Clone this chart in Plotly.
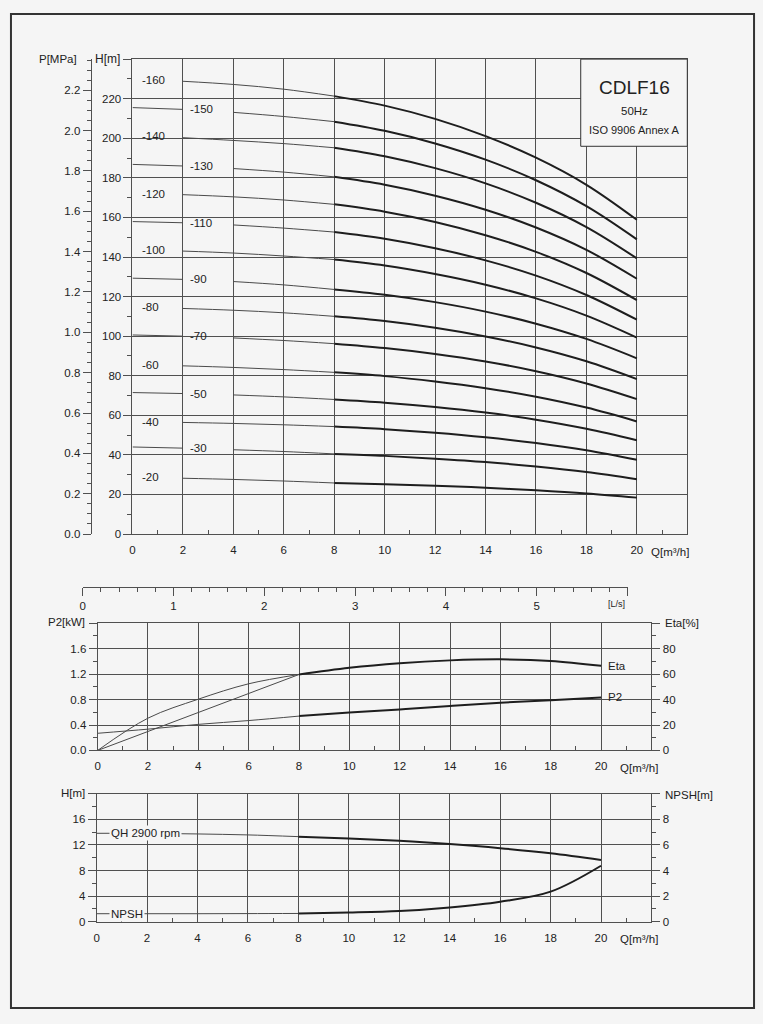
import plotly.graph_objects as go

W = 763
H_REF = 1024
H_FIG = 1032
BG = "#f5f5f5"
INK = "#1e1e1e"
GRID = "#505050"
THIN = "#4a4a4a"
FONT = "Liberation Sans, Arial, sans-serif"
FS = 11.5


def px(x):
    return x / W


def py(y):
    return 1 - y / H_REF


# ---------------- data ----------------
Q = [0, 2, 4, 6, 8, 10, 12, 14, 16, 18, 20]
Q_TICKS = [0, 2, 4, 6, 8, 10, 12, 14, 16, 18, 20]
LS_TICKS = [0, 1, 2, 3, 4, 5, 6]
LS_TEXT = ["0", "1", "2", "3", "4", "5", ""]

STAGE_LABELS = ["-160", "-150", "-140", "-130", "-120", "-110", "-100", "-90",
                "-80", "-70", "-60", "-50", "-40", "-30", "-20"]

HEAD_160 = [229.6, 228.8, 227.2, 224.8, 221.3, 216.5, 209.8, 201.1, 190.2, 176.5, 158.8]
HEAD_150 = [215.5, 214.6, 213.1, 211.0, 208.4, 203.8, 197.4, 189.2, 178.8, 165.7, 148.9]
HEAD_140 = [201.0, 200.3, 198.9, 197.3, 195.2, 190.9, 184.9, 177.2, 167.4, 155.1, 139.3]
HEAD_130 = [186.8, 186.0, 184.7, 182.9, 180.5, 176.5, 171.0, 163.9, 154.9, 143.6, 129.0]
HEAD_120 = [172.0, 171.5, 170.4, 168.8, 166.6, 162.9, 157.7, 151.0, 142.6, 131.9, 118.2]
HEAD_110 = [157.9, 157.3, 156.2, 154.6, 152.6, 149.2, 144.4, 138.3, 130.6, 120.8, 108.3]
HEAD_100 = [143.6, 143.0, 142.0, 140.5, 138.7, 135.7, 131.4, 126.0, 119.1, 110.4, 99.3]
HEAD_90 = [129.3, 128.7, 127.6, 125.9, 123.6, 120.9, 117.2, 112.4, 106.3, 98.6, 88.8]
HEAD_80 = [114.5, 114.0, 113.1, 111.8, 110.0, 107.6, 104.2, 99.8, 94.3, 87.3, 78.3]
HEAD_70 = [100.6, 100.0, 99.1, 97.8, 96.2, 94.0, 91.0, 87.2, 82.3, 76.1, 68.2]
HEAD_60 = [85.6, 85.0, 84.2, 83.1, 81.7, 79.8, 77.1, 73.7, 69.4, 63.9, 56.9]
HEAD_50 = [71.5, 71.0, 70.3, 69.3, 68.0, 66.4, 64.2, 61.4, 57.8, 53.2, 47.4]
HEAD_40 = [56.8, 56.4, 55.9, 55.2, 54.3, 53.0, 51.2, 48.9, 46.0, 42.3, 37.5]
HEAD_30 = [44.0, 43.4, 42.6, 41.7, 40.5, 39.5, 38.1, 36.4, 34.1, 31.3, 27.7]
HEAD_20 = [28.6, 28.2, 27.6, 26.8, 25.8, 25.2, 24.4, 23.4, 22.1, 20.5, 18.4]

HEADS = [HEAD_160, HEAD_150, HEAD_140, HEAD_130, HEAD_120, HEAD_110, HEAD_100,
         HEAD_90, HEAD_80, HEAD_70, HEAD_60, HEAD_50, HEAD_40, HEAD_30, HEAD_20]

ETA = [0, 25.4, 40.3, 52.4, 59.7, 65.0, 68.6, 70.8, 71.6, 70.4, 66.5]
ETA_CHORD_Q = [0, 8]
ETA_CHORD = [0, 59.7]
P2 = [0.27, 0.335, 0.41, 0.47, 0.54, 0.595, 0.645, 0.70, 0.75, 0.79, 0.834]

QH_SINGLE = [13.8, 13.8, 13.7, 13.55, 13.28, 13.0, 12.62, 12.12, 11.48, 10.68, 9.64]
NPSH = [0.63, 0.63, 0.63, 0.64, 0.65, 0.72, 0.84, 1.12, 1.57, 2.35, 4.37]

MPA_PER_M = 0.00981

fig = go.Figure()


def line(x, y, xa, ya, thick, shape="spline"):
    fig.add_trace(go.Scatter(
        x=x, y=y, xaxis=xa, yaxis=ya, mode="lines",
        line=dict(color=INK if thick else THIN, width=2 if thick else 1, shape=shape),
        hoverinfo="skip", showlegend=False, connectgaps=False))


# ---------------- top chart: stage curves ----------------
annotations = []
for i, (lab, h) in enumerate(zip(STAGE_LABELS, HEADS)):
    line(Q[4:], h[4:], "x", "y", True)
    if i % 2 == 0:
        line(Q[1:5], h[1:5], "x", "y", False)
        annotations.append(dict(x=0.28, y=h[0], xref="x", yref="y", text=lab,
                                showarrow=False, xanchor="left", yanchor="middle",
                                font=dict(size=FS)))
    else:
        line(Q[0:2] + [None] + Q[2:5], h[0:2] + [None] + h[2:5], "x", "y", False)
        annotations.append(dict(x=2.2, y=h[1], xref="x", yref="y", text=lab,
                                showarrow=False, xanchor="left", yanchor="middle",
                                font=dict(size=FS)))

# dummy for the MPa axis
fig.add_trace(go.Scatter(x=[0], y=[0], xaxis="x", yaxis="y2", mode="markers",
                         opacity=0, hoverinfo="skip", showlegend=False))

# ---------------- middle chart ----------------
line(Q[:5], ETA[:5], "x3", "y4", False)
line(ETA_CHORD_Q, ETA_CHORD, "x3", "y4", False, shape="linear")
line(Q[4:], ETA[4:], "x3", "y4", True)
line(Q[:5], P2[:5], "x3", "y3", False)
line(Q[4:], P2[4:], "x3", "y3", True)
# dummy for the L/s axis
fig.add_trace(go.Scatter(x=[0, 6], y=[0, 0], xaxis="x4", yaxis="y5", mode="markers",
                         opacity=0, hoverinfo="skip", showlegend=False))

# ---------------- bottom chart ----------------
line(Q[:5], QH_SINGLE[:5], "x5", "y6", False)
line(Q[4:], QH_SINGLE[4:], "x5", "y6", True)
line(Q[:5], NPSH[:5], "x5", "y7", False)
line(Q[4:], NPSH[4:], "x5", "y7", True)

axis_common = dict(showline=True, linecolor=GRID, linewidth=1, gridcolor=GRID,
                   gridwidth=1, zeroline=False, tickfont=dict(size=FS, color="#222"),
                   fixedrange=True)

odd_q = [1, 3, 5, 7, 9, 11, 13, 15, 17, 19, 21]


def qaxis(domain, anchor):
    return dict(axis_common, domain=domain, anchor=anchor, range=[0, 22],
                tickmode="array", tickvals=Q_TICKS, ticks="", showgrid=True,
                mirror=True, ticklabelstandoff=5,
                minor=dict(tickmode="array", tickvals=odd_q, ticks="inside",
                           ticklen=4, tickcolor=GRID, showgrid=False))


layout = dict(
    width=W, height=H_FIG, margin=dict(l=0, r=0, t=0, b=0),
    paper_bgcolor=BG, plot_bgcolor=BG, showlegend=False,
    font=dict(family=FONT, size=FS, color="#222"),
    # top
    xaxis=qaxis([px(130), px(687)], "y"),
    yaxis=dict(axis_common, domain=[py(533), py(59)], anchor="x", range=[0, 240],
               tickmode="array", tickvals=list(range(0, 241, 20)),
               ticktext=[str(v) for v in range(0, 221, 20)] + [""],
               ticks="outside", ticklen=8, tickcolor=GRID, mirror=True,
               minor=dict(tickmode="array", tickvals=list(range(10, 240, 20)),
                          ticks="outside", ticklen=4, tickcolor=GRID)),
    yaxis2=dict(axis_common, overlaying="y", anchor="free", position=px(88), side="left",
                range=[0, 240 * MPA_PER_M], tickmode="linear", tick0=0, dtick=0.2,
                tickformat=".1f", ticks="outside", ticklen=8, tickcolor=GRID,
                showgrid=False,
                minor=dict(dtick=0.05, tick0=0, ticks="outside", ticklen=4, tickcolor=GRID)),
    # middle
    xaxis3=qaxis([px(95), px(651)], "y3"),
    yaxis3=dict(axis_common, domain=[py(749), py(622)], anchor="x3", range=[0, 2],
                tickmode="array", tickvals=[0, 0.4, 0.8, 1.2, 1.6, 2.0],
                ticktext=["0.0", "0.4", "0.8", "1.2", "1.6", ""],
                ticks="outside", ticklen=8, tickcolor=GRID, mirror=True,
                minor=dict(tickmode="array", tickvals=[0.2, 0.6, 1.0, 1.4, 1.8],
                           ticks="outside", ticklen=4, tickcolor=GRID)),
    yaxis4=dict(axis_common, overlaying="y3", anchor="x3", side="right", range=[0, 100],
                tickmode="array", tickvals=[0, 20, 40, 60, 80, 100],
                ticktext=["0", "20", "40", "60", "80", ""], showgrid=False,
                ticks="outside", ticklen=8, tickcolor=GRID,
                minor=dict(tickmode="array", tickvals=[10, 30, 50, 70, 90],
                           ticks="outside", ticklen=4, tickcolor=GRID)),
    xaxis4=dict(axis_common, domain=[px(80), px(627)], anchor="y5", range=[0, 6],
                tickmode="array", tickvals=LS_TICKS, ticktext=LS_TEXT, showgrid=False,
                side="bottom", ticks="outside", ticklen=8, tickcolor=GRID,
                minor=dict(dtick=0.2, tick0=0, ticks="outside", ticklen=4, tickcolor=GRID)),
    yaxis5=dict(domain=[py(586), py(576)], anchor="x4", range=[0, 1], visible=False,
                fixedrange=True),
    # bottom
    xaxis5=qaxis([px(94), px(651)], "y6"),
    yaxis6=dict(axis_common, domain=[py(920), py(792)], anchor="x5", range=[0, 20],
                tickmode="array", tickvals=[0, 4, 8, 12, 16, 20],
                ticktext=["0", "4", "8", "12", "16", ""],
                ticks="outside", ticklen=8, tickcolor=GRID, mirror=True,
                minor=dict(tickmode="array", tickvals=[2, 6, 10, 14, 18],
                           ticks="outside", ticklen=4, tickcolor=GRID)),
    yaxis7=dict(axis_common, overlaying="y6", anchor="x5", side="right", range=[0, 10],
                tickmode="array", tickvals=[0, 2, 4, 6, 8, 10],
                ticktext=["0", "2", "4", "6", "8", ""], showgrid=False,
                ticks="outside", ticklen=8, tickcolor=GRID,
                minor=dict(tickmode="array", tickvals=[1, 3, 5, 7, 9],
                           ticks="outside", ticklen=4, tickcolor=GRID)),
)


def paper_text(text, x, y, xanchor="left", size=FS, yanchor="middle"):
    annotations.append(dict(x=px(x), y=py(y), xref="paper", yref="paper", text=text,
                            showarrow=False, xanchor=xanchor, yanchor=yanchor,
                            font=dict(size=size)))


# axis titles
paper_text("P[MPa]", 76, 59, "right")
paper_text("H[m]", 119, 59, "right", size=12)
paper_text("Q[m³/h]", 649, 551)
paper_text("[L/s]", 605, 603, size=9)
paper_text("P2[kW]", 84, 621, "right")
paper_text("Eta[%]", 663, 622)
paper_text("Q[m³/h]", 617, 767)
paper_text("H[m]", 84, 791, "right")
paper_text("NPSH[m]", 663, 793)
paper_text("Q[m³/h]", 617, 937)

# title box text
paper_text("CDLF16", 633.5, 87, "center", size=19)
paper_text("50Hz", 633.5, 111, "center", size=11.5)
paper_text("ISO 9906 Annex A", 633.5, 130, "center", size=11)

# curve labels middle / bottom
annotations.append(dict(x=20.2, y=ETA[-1], xref="x3", yref="y4", text="Eta",
                        showarrow=False, xanchor="left", yanchor="middle"))
annotations.append(dict(x=20.2, y=P2[-1], xref="x3", yref="y3", text="P2",
                        showarrow=False, xanchor="left", yanchor="middle"))
annotations.append(dict(x=0.5, y=QH_SINGLE[0], xref="x5", yref="y6", text="QH 2900 rpm",
                        showarrow=False, xanchor="left", yanchor="middle",
                        bgcolor=BG, borderpad=1))
annotations.append(dict(x=0.5, y=NPSH[0], xref="x5", yref="y7", text="NPSH",
                        showarrow=False, xanchor="left", yanchor="middle",
                        bgcolor=BG, borderpad=1))

layout["annotations"] = annotations
layout["shapes"] = [
    dict(type="rect", xref="paper", yref="paper", x0=px(580), x1=px(687),
         y0=py(146), y1=py(59), fillcolor=BG, line=dict(color="#333", width=1),
         layer="above"),
    dict(type="rect", xref="paper", yref="paper", x0=px(8), x1=px(754),
         y0=py(1006), y1=py(14), line=dict(color="#333", width=2), layer="above"),
]

fig.update_layout(**layout)
fig.write_html(
    "out.html", config=dict(displayModeBar=False, staticPlot=True),
    post_script=("document.body.style.margin='0';"
                 "document.body.style.background='" + BG + "';"
                 "document.documentElement.style.background='" + BG + "';"))
